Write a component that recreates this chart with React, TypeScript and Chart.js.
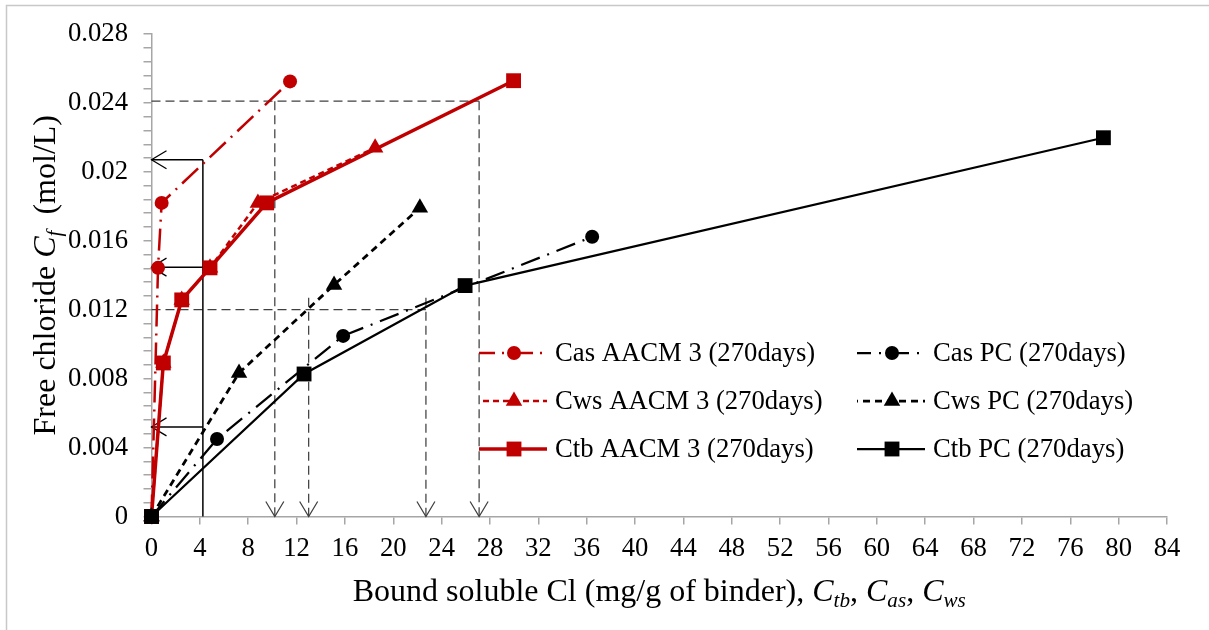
import React, { useEffect, useRef } from "react";
import { Chart, registerables } from "chart.js";

Chart.register(...registerables);

// ---- Data ----
const casAacmX = [0, 0.54, 0.84, 11.46];
const casAacmY = [0, 0.01443, 0.0182, 0.02525];
const cwsAacmX = [0, 0.98, 2.5, 4.84, 8.8, 18.5];
const cwsAacmY = [0, 0.00891, 0.01257, 0.01443, 0.0182, 0.0214];
const ctbAacmX = [0, 0.98, 2.5, 4.84, 9.53, 29.95];
const ctbAacmY = [0, 0.00891, 0.01257, 0.01443, 0.0182, 0.02529];
const casPcX = [0, 5.42, 15.85, 36.45];
const casPcY = [0, 0.0045, 0.01048, 0.01623];
const cwsPcX = [0, 7.24, 15.1, 22.2];
const cwsPcY = [0, 0.00833, 0.01344, 0.01791];
const ctbPcX = [0, 12.62, 25.94, 78.74];
const ctbPcY = [0, 0.00827, 0.0134, 0.02198];

const seriesNames = [
  "Cas AACM 3 (270days)",
  "Cws AACM 3 (270days)",
  "Ctb AACM 3 (270days)",
  "Cas PC (270days)",
  "Cws PC (270days)",
  "Ctb PC (270days)",
];

const xTickLabels = ["0", "4", "8", "12", "16", "20", "24", "28", "32", "36", "40", "44", "48", "52", "56", "60", "64", "68", "72", "76", "80", "84"];
const yTickLabels = ["0", "0.004", "0.008", "0.012", "0.016", "0.02", "0.024", "0.028"];
const yMinorPerMajor = 5;

// guide lines [x1, y1, x2, y2]
const dashedGuides = [
  [0, 0.0241, 27.1, 0.0241],
  [0, 0.012, 22.7, 0.012],
];
const dashedArrowGuides = [
  [10.2, 0.0241, 10.2, 0],
  [27.1, 0.0241, 27.1, 0],
  [13.0, 0.0127, 13.0, 0],
  [22.7, 0.0127, 22.7, 0],
];
const solidGuides = [[4.25, 0, 4.25, 0.0207]];
const solidArrowGuides = [
  [4.25, 0.0207, 0, 0.0207],
  [5.25, 0.01447, 0, 0.01447],
  [4.25, 0.0052, 0, 0.0052],
];

const RED = "#C00000";
const BLACK = "#000000";
const AXIS_GRAY = "#A6A6A6";
const SERIF = "'Liberation Serif', 'Times New Roman', serif";

function toPoints(xs: number[], ys: number[]) {
  return xs.map((x, i) => ({ x, y: ys[i] }));
}

const styles = [
  { color: RED, width: 2.5, dash: [22, 7, 2, 7], point: "circle", radius: 7 },
  { color: RED, width: 2.5, dash: [6, 4], point: "triangle", radius: 9.5 },
  { color: RED, width: 3.5, dash: [], point: "rect", radius: 10.5 },
  { color: BLACK, width: 2.25, dash: [20, 8, 2, 8], point: "circle", radius: 7 },
  { color: BLACK, width: 2.75, dash: [7, 5], point: "triangle", radius: 9.5 },
  { color: BLACK, width: 2.25, dash: [], point: "rect", radius: 10.5 },
];

function drawArrowHead(ctx: CanvasRenderingContext2D, x1: number, y1: number, x2: number, y2: number) {
  const ang = Math.atan2(y2 - y1, x2 - x1);
  const len = 15;
  const half = 9;
  const bx = x2 - Math.cos(ang) * len;
  const by = y2 - Math.sin(ang) * len;
  const nx = -Math.sin(ang) * half;
  const ny = Math.cos(ang) * half;
  ctx.beginPath();
  ctx.moveTo(bx + nx, by + ny);
  ctx.lineTo(x2, y2);
  ctx.lineTo(bx - nx, by - ny);
  ctx.stroke();
}

const guidePlugin = {
  id: "guides",
  beforeDatasetsDraw(chart: any) {
    const { ctx, scales } = chart;
    const xs = scales.x;
    const ys = scales.y;
    const seg = (s: number[]) => [xs.getPixelForValue(s[0]), ys.getPixelForValue(s[1]), xs.getPixelForValue(s[2]), ys.getPixelForValue(s[3])];
    ctx.save();
    ctx.lineCap = "butt";
    ctx.strokeStyle = "#404040";
    ctx.lineWidth = 1.25;
    [...dashedGuides, ...dashedArrowGuides].forEach((s) => {
      const [a, b, c, d] = seg(s);
      ctx.setLineDash([9, 5]);
      ctx.beginPath();
      ctx.moveTo(a, b);
      ctx.lineTo(c, d);
      ctx.stroke();
    });
    ctx.setLineDash([]);
    ctx.lineWidth = 1.25;
    dashedArrowGuides.forEach((s) => {
      const [a, b, c, d] = seg(s);
      drawArrowHead(ctx, a, b, c, d);
    });
    ctx.strokeStyle = "#000000";
    ctx.lineWidth = 1.5;
    [...solidGuides, ...solidArrowGuides].forEach((s) => {
      const [a, b, c, d] = seg(s);
      ctx.beginPath();
      ctx.moveTo(a, b);
      ctx.lineTo(c, d);
      ctx.stroke();
    });
    ctx.lineWidth = 1.25;
    solidArrowGuides.forEach((s) => {
      const [a, b, c, d] = seg(s);
      drawArrowHead(ctx, a, b, c, d);
    });
    ctx.restore();
  },
};

function drawMarker(ctx: CanvasRenderingContext2D, kind: string, x: number, y: number, r: number, color: string) {
  ctx.save();
  ctx.fillStyle = color;
  ctx.beginPath();
  if (kind === "circle") {
    ctx.arc(x, y, r, 0, Math.PI * 2);
  } else if (kind === "rect") {
    const h = r * Math.SQRT1_2;
    ctx.rect(x - h, y - h, 2 * h, 2 * h);
  } else {
    const a = (2 * Math.PI) / 3;
    ctx.moveTo(x, y - r);
    ctx.lineTo(x + Math.sin(a) * r, y - Math.cos(a) * r);
    ctx.lineTo(x + Math.sin(2 * a) * r, y - Math.cos(2 * a) * r);
    ctx.closePath();
  }
  ctx.fill();
  ctx.restore();
}

const legendPlugin = {
  id: "customLegend",
  afterDraw(chart: any) {
    const { ctx } = chart;
    const colX = [479, 857];
    const rowY = [353, 401, 449];
    ctx.save();
    seriesNames.forEach((name, i) => {
      const col = i < 3 ? 0 : 1;
      const row = i % 3;
      const st = styles[i];
      const x0 = colX[col];
      const y = rowY[row];
      ctx.strokeStyle = st.color;
      ctx.lineWidth = st.width;
      ctx.setLineDash(st.dash);
      ctx.lineDashOffset = st.dash.length ? 6 : 0;
      ctx.beginPath();
      ctx.moveTo(x0, y);
      ctx.lineTo(x0 + 68, y);
      ctx.stroke();
      ctx.setLineDash([]);
      drawMarker(ctx, st.point, x0 + 35, y, st.radius, st.color);
      ctx.fillStyle = "#000";
      ctx.font = `26.7px ${SERIF}`;
      ctx.textBaseline = "middle";
      ctx.textAlign = "left";
      ctx.fillText(name, x0 + 76, y + 1);
    });
    ctx.restore();
  },
};

function drawRich(ctx: CanvasRenderingContext2D, parts: { t: string; it?: boolean; sub?: boolean }[], size: number, x: number, y: number, measureOnly = false) {
  let cx = x;
  parts.forEach((p) => {
    const sz = p.sub ? size * 0.66 : size;
    ctx.font = `${p.it ? "italic " : ""}${sz}px ${SERIF}`;
    if (!measureOnly) ctx.fillText(p.t, cx, p.sub ? y + size * 0.2 : y);
    cx += ctx.measureText(p.t).width;
  });
  return cx - x;
}

const xTitleParts = [
  { t: "Bound soluble Cl (mg/g of binder), " },
  { t: "C", it: true },
  { t: "tb", it: true, sub: true },
  { t: ", " },
  { t: "C", it: true },
  { t: "as", it: true, sub: true },
  { t: ", " },
  { t: "C", it: true },
  { t: "ws", it: true, sub: true },
];
const yTitleParts = [
  { t: "Free chloride " },
  { t: "C", it: true },
  { t: "f", it: true, sub: true },
  { t: "  (mol/L)" },
];

const titlePlugin = {
  id: "titles",
  afterDraw(chart: any) {
    const { ctx, chartArea } = chart;
    ctx.save();
    ctx.fillStyle = "#000";
    ctx.textBaseline = "alphabetic";
    ctx.textAlign = "left";
    const size = 32;
    const wx = drawRich(ctx, xTitleParts, size, 0, 0, true);
    const cxm = (chartArea.left + chartArea.right) / 2;
    drawRich(ctx, xTitleParts, size, cxm - wx / 2, 601);
    const wy = drawRich(ctx, yTitleParts, size, 0, 0, true);
    const cym = (chartArea.top + chartArea.bottom) / 2;
    ctx.translate(55, cym);
    ctx.rotate(-Math.PI / 2);
    drawRich(ctx, yTitleParts, size, -wy / 2, 0);
    ctx.restore();
    ctx.save();
    ctx.strokeStyle = "#C8C8C8";
    ctx.lineWidth = 1.5;
    ctx.strokeRect(6.5, 5.5, 1400, 800);
    ctx.restore();
  },
};

export default function App() {
  const ref = useRef<HTMLCanvasElement | null>(null);
  useEffect(() => {
    if (!ref.current) return;
    const allX = [casAacmX, cwsAacmX, ctbAacmX, casPcX, cwsPcX, ctbPcX];
    const allY = [casAacmY, cwsAacmY, ctbAacmY, casPcY, cwsPcY, ctbPcY];
    const order = [3, 4, 5, 0, 1, 2];
    const datasets = seriesNames.map((name, i) => ({
      label: name,
      data: toPoints(allX[i], allY[i]),
      borderColor: styles[i].color,
      backgroundColor: styles[i].color,
      borderWidth: styles[i].width,
      borderDash: styles[i].dash,
      pointStyle: styles[i].point,
      pointRadius: styles[i].radius,
      pointBorderWidth: 0,
      pointBackgroundColor: styles[i].color,
      showLine: true,
      tension: 0,
      clip: false,
      order: order[i],
    }));
    const chart = new Chart(ref.current, {
      type: "scatter",
      data: { datasets },
      options: {
        animation: false,
        responsive: false,
        devicePixelRatio: 1,
        layout: { padding: { left: 0, top: 34, right: 42, bottom: 0 } },
        plugins: { legend: { display: false }, tooltip: { enabled: false } },
        scales: {
          x: {
            type: "linear",
            min: 0,
            max: 84,
            afterFit: (s: any) => {
              s.height = 113.5;
            },
            afterBuildTicks: (s: any) => {
              s.ticks = xTickLabels.map((l) => ({ value: Number(l) }));
            },
            ticks: {
              autoSkip: false,
              maxRotation: 0,
              padding: 8,
              color: "#000",
              font: { family: SERIF, size: 26.7 },
              callback: (_v: any, i: number) => xTickLabels[i],
            },
            grid: { drawOnChartArea: false, drawTicks: true, tickLength: 8, color: AXIS_GRAY, lineWidth: 1.5 },
            border: { display: true, color: AXIS_GRAY, width: 1.5 },
          },
          y: {
            type: "linear",
            min: 0,
            max: 0.028,
            afterFit: (s: any) => {
              s.width = 151.5;
            },
            afterBuildTicks: (s: any) => {
              const n = (yTickLabels.length - 1) * yMinorPerMajor;
              const t = [];
              for (let i = 0; i <= n; i++) t.push({ value: (0.028 * i) / n });
              s.ticks = t;
            },
            ticks: {
              autoSkip: false,
              padding: 15.5,
              color: "#000",
              font: { family: SERIF, size: 26.7 },
              callback: (_v: any, i: number) => (i % yMinorPerMajor === 0 ? yTickLabels[i / yMinorPerMajor] : ""),
            },
            grid: { drawOnChartArea: false, drawTicks: true, tickLength: 8, color: AXIS_GRAY, lineWidth: 1.5 },
            border: { display: true, color: AXIS_GRAY, width: 1.5 },
          },
        },
      },
      plugins: [guidePlugin, legendPlugin, titlePlugin],
    });
    return () => chart.destroy();
  }, []);
  return (
    <div style={{ position: "fixed", left: 0, top: 0, width: 1209, height: 630, background: "#fff" }}>
      <canvas ref={ref} width={1209} height={630} style={{ width: 1209, height: 630, display: "block" }} />
    </div>
  );
}
